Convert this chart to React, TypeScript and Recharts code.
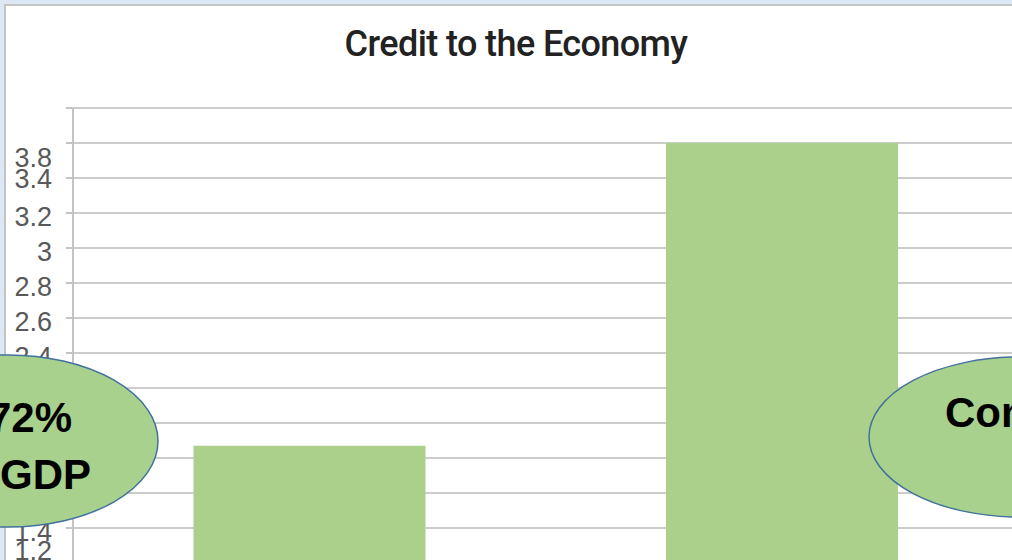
import React from "react";
import { Bar, BarChart, CartesianGrid, XAxis, YAxis } from "recharts";

const categories = ["2012", "2022"];
const creditValues = [1.87, 3.6];
const yTicks = [0, 0.2, 0.4, 0.6, 0.8, 1, 1.2, 1.4, 1.6, 1.8, 2, 2.2, 2.4, 2.6, 2.8, 3, 3.2, 3.4, 3.6, 3.8];
const yTickLabels = ["0", "0.2", "0.4", "0.6", "0.8", "1", "1.2", "1.4", "1.6", "1.8", "2", "2.2", "2.4", "2.6", "2.8", "3", "3.2", "3.4", "", "3.8"];
const leftBubbleLines = ["72%", "of GDP"];
const rightBubbleLines = ["Compared"];

const data = categories.map((name, i) => ({ name, credit: creditValues[i] }));

// the source image has garbled label positions at the top and bottom
const labelShift: Record<string, number> = { "3.8": 50, "3.4": 1, "1.2": -12 };

function YTick(props: any) {
  const { x, y, payload } = props;
  const idx = yTicks.indexOf(payload.value);
  const label = yTickLabels[idx] ?? "";
  if (!label) return null;
  const dy = labelShift[label] ?? 4;
  return (
    <text
      x={x}
      y={y + dy}
      textAnchor="end"
      dominantBaseline="central"
      fill="#595959"
      fontFamily="'Liberation Sans', Arial, sans-serif"
      fontSize={27}
    >
      {label}
    </text>
  );
}

export default function App() {
  return (
    <div
      style={{
        position: "absolute",
        left: 0,
        top: 0,
        width: 1012,
        height: 560,
        overflow: "hidden",
        background: "#dce8f4",
      }}
    >
      <div
        style={{
          position: "absolute",
          left: 4,
          top: 4,
          width: 1100,
          height: 900,
          background: "#ffffff",
          borderTop: "2px solid #c4c4c4",
          borderLeft: "2px solid #c4c4c4",
        }}
      />
      <div style={{ position: "absolute", left: 0, top: 0 }}>
        <BarChart
          width={1030}
          height={791}
          data={data}
          margin={{ top: 108, right: 12, left: 0, bottom: 18 }}
          barCategoryGap="25.5%"
        >
          <text
            x={516}
            y={56}
            textAnchor="middle"
            fontFamily="Roboto, 'Noto Sans', sans-serif"
            fontWeight={500}
            fontSize={36}
            letterSpacing={-0.6}
            fill="#222222"
          >
            Credit to the Economy
          </text>
          <CartesianGrid vertical={false} stroke="#cccccc" strokeWidth={2} />
          <XAxis dataKey="name" hide />
          <YAxis
            width={73}
            domain={[0, 3.8]}
            ticks={yTicks}
            interval={0}
            axisLine={{ stroke: "#c4c4c4", strokeWidth: 2 }}
            tickLine={{ stroke: "#c4c4c4", strokeWidth: 2 }}
            tickSize={7}
            tickMargin={14}
            tick={<YTick />}
          />
          <Bar dataKey="credit" fill="#abd08c" isAnimationActive={false} />
        </BarChart>
      </div>
      <svg
        width={1012}
        height={560}
        style={{ position: "absolute", left: 0, top: 0 }}
        fontFamily="'Liberation Sans', Arial, sans-serif"
        fontWeight="bold"
        fontSize={42}
      >
        <ellipse cx={8} cy={441} rx={150} ry={86} fill="#a9d18e" stroke="#41719c" strokeWidth={1.5} />
        <text x={72} y={432} textAnchor="end" fill="#000">
          {leftBubbleLines[0]}
        </text>
        <text x={91} y={489} textAnchor="end" fill="#000">
          {leftBubbleLines[1]}
        </text>
        <ellipse cx={1020} cy={437} rx={151} ry={80} fill="#a9d18e" stroke="#41719c" strokeWidth={1.5} />
        <text x={945} y={427} fill="#000">
          {rightBubbleLines[0]}
        </text>
      </svg>
    </div>
  );
}
